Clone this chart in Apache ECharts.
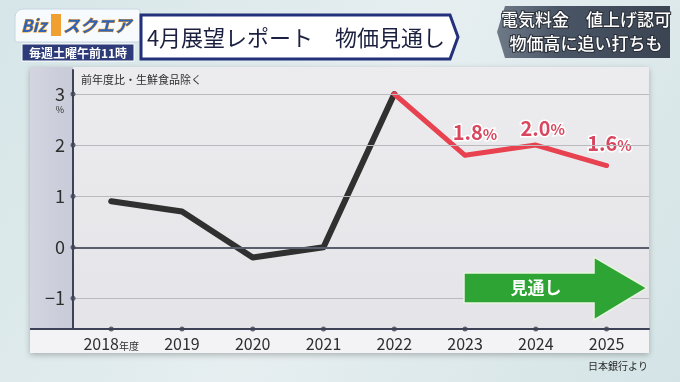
<!DOCTYPE html>
<html><head><meta charset="utf-8">
<script src="https://cdn.jsdelivr.net/npm/echarts@6/dist/echarts.min.js"></script>
<style>html,body{margin:0;padding:0;background:#dde8ea;}#c{width:680px;height:382px;}</style>
</head><body><div id="c"></div>
<script>
const years = [2018, 2019, 2020, 2021, 2022, 2023, 2024, 2025];
const actual = [0.9, 0.7, -0.2, 0.0, 3.0, null, null, null];
const forecast = [null, null, null, null, 3.0, 1.8, 2.0, 1.6];
const yTicks = [-1, 0, 1, 2, 3];
const xMin = 2017.46, xMax = 2025.6, yMin = -1.6, yMax = 3.47;
const FONT = '"Noto Sans CJK JP","Noto Sans",sans-serif';

const labelOffsets = {5: [10, -6], 6: [7, 0], 7: [3, -5]};
const toPairs = arr => years.map((y, i) => arr[i] == null ? null : [y, arr[i]]).filter(p => p);
const forecastData = years.map((y, i) => {
  if (forecast[i] == null) return null;
  const d = {value: [y, forecast[i]]};
  if (i >= 5) {
    d.label = {show: true, position: 'top', offset: labelOffsets[i], formatter: '{n|' + forecast[i].toFixed(1) + '}{p|%}'};
  } else {
    d.label = {show: false};
  }
  return d;
}).filter(d => d);

const labelRich = {
  n: {fontSize: 20, fontWeight: 'bold', color: '#d9475f', textBorderColor: '#ffffff', textBorderWidth: 3, fontFamily: FONT},
  p: {fontSize: 15, fontWeight: 'bold', color: '#d9475f', textBorderColor: '#ffffff', textBorderWidth: 3, fontFamily: FONT, padding: [3, 0, 0, 0]}
};

const chart = echarts.init(document.getElementById('c'), null, {renderer: 'canvas'});
chart.setOption({
  backgroundColor: {type: 'linear', x: 0, y: 0, x2: 1, y2: 1, colorStops: [{offset: 0, color: '#d6e6e8'}, {offset: 0.5, color: '#e6eef0'}, {offset: 1, color: '#d4e4e6'}]},
  animation: false,
  textStyle: {fontFamily: FONT},
  graphic: [
    // panel
    {type: 'rect', shape: {x: 30, y: 67, width: 619, height: 286}, style: {fill: {type: 'linear', x: 0, y: 0, x2: 0, y2: 1, colorStops: [{offset: 0, color: '#ececef'}, {offset: 1, color: '#e4e4e8'}]}, shadowBlur: 6, shadowColor: 'rgba(0,0,0,0.25)', shadowOffsetY: 2}, z: -10},
    {type: 'rect', shape: {x: 30, y: 67, width: 43, height: 262}, style: {fill: {type: 'linear', x: 0, y: 0, x2: 1, y2: 0, colorStops: [{offset: 0, color: '#d3d6e0'}, {offset: 1, color: '#c8cbd8'}]}}, z: -9},
    {type: 'rect', shape: {x: 30, y: 329, width: 619, height: 24}, style: {fill: '#f3f3f5'}, z: -9},
    {type: 'line', shape: {x1: 30, y1: 329, x2: 73, y2: 329}, style: {stroke: '#3e4256', lineWidth: 2}, z: 5},
    // header logo
    {type: 'rect', shape: {x: 15, y: 9, width: 125, height: 33, r: [8, 2, 2, 2]}, style: {fill: '#f7fbfd', stroke: '#c9d6e2', lineWidth: 1}, z: 10},
    {type: 'text', x: 21, y: 26, style: {text: 'Biz', fill: '#2f62b8', font: 'bold italic 17px ' + FONT, verticalAlign: 'middle', stroke: '#f0a020', lineWidth: 1}, z: 11},
    {type: 'rect', shape: {x: 51, y: 14, width: 10, height: 22}, style: {fill: '#f0a030'}, z: 11},
    {type: 'text', x: 63, y: 26, style: {text: 'スクエア', fill: '#2f62b8', font: 'bold italic 17px ' + FONT, verticalAlign: 'middle', stroke: '#f0a020', lineWidth: 1}, z: 11},
    {type: 'rect', shape: {x: 22, y: 44, width: 112, height: 17}, style: {fill: '#2d3b78', stroke: '#ffffff', lineWidth: 1}, z: 10},
    {type: 'text', x: 78, y: 53, style: {text: '毎週土曜午前11時', fill: '#ffffff', font: 'bold 12px ' + FONT, align: 'center', verticalAlign: 'middle'}, z: 11},
    // title banner
    {type: 'polygon', shape: {points: [[141, 15], [450, 15], [458, 37], [450, 59], [141, 59]]}, style: {fill: '#ffffff', stroke: '#23307a', lineWidth: 3}, z: 10},
    {type: 'text', x: 296, y: 38, style: {text: '4月展望レポート　物価見通し', fill: '#1b2040', font: '22px ' + FONT, align: 'center', verticalAlign: 'middle'}, z: 11},
    // right box
    {type: 'polygon', shape: {points: [[505, 6], [670, 6], [670, 58], [505, 58], [497, 32]]}, style: {fill: {type: 'linear', x: 0, y: 0, x2: 1, y2: 0, colorStops: [{offset: 0, color: '#6e7a88'}, {offset: 0.35, color: '#4a5566'}, {offset: 1, color: '#3a4452'}]}}, z: 10},
    {type: 'text', x: 586, y: 20, style: {text: '電気料金　値上げ認可', fill: '#ffffff', font: '500 17px ' + FONT, align: 'center', verticalAlign: 'middle', stroke: '#2a2f38', lineWidth: 2}, z: 11},
    {type: 'text', x: 586, y: 44, style: {text: '物価高に追い打ちも', fill: '#ffffff', font: '500 17px ' + FONT, align: 'center', verticalAlign: 'middle', stroke: '#2a2f38', lineWidth: 2}, z: 11},
    // forecast arrow
    {type: 'polygon', shape: {points: [[464, 273], [594, 273], [594, 257], [647, 288], [594, 320], [594, 303], [464, 303]]}, style: {fill: '#2ea434', stroke: '#e8f5e0', lineWidth: 1.5}, z: 20},
    {type: 'text', x: 536, y: 288, style: {text: '見通し', fill: '#ffffff', font: 'bold 17px ' + FONT, align: 'center', verticalAlign: 'middle'}, z: 21},
    // source
    {type: 'text', x: 648, y: 366, style: {text: '日本銀行より', fill: '#2a2a2a', font: '10px ' + FONT, align: 'right', verticalAlign: 'middle'}, z: 11}
  ],
  grid: {left: 73, right: 31, top: 70, bottom: 53, containLabel: false},
  xAxis: {
    type: 'value', min: xMin, max: xMax,
    axisLine: {show: true, onZero: false, lineStyle: {color: '#3e4256', width: 2}},
    axisTick: {show: false},
    splitLine: {show: false},
    axisLabel: {
      customValues: years, margin: 7, color: '#2e2e2e', fontSize: 16, fontFamily: FONT,
      formatter: v => v === years[0] ? '{y|' + v + '}{s|年度}' : '{y|' + v + '}',
      rich: {y: {fontSize: 16, color: '#2e2e2e', fontFamily: FONT}, s: {fontSize: 10, color: '#2e2e2e', fontFamily: FONT, padding: [4, 0, 0, 0]}}
    }
  },
  yAxis: {
    type: 'value', min: yMin, max: yMax,
    name: '前年度比・生鮮食品除く', nameLocation: 'end', nameGap: -4,
    nameTextStyle: {align: 'left', verticalAlign: 'top', padding: [0, 0, 0, 8], fontSize: 11, color: '#2e2e2e', fontFamily: FONT},
    axisLine: {show: true, onZero: false, lineStyle: {color: '#3e4256', width: 2}},
    axisTick: {show: false},
    splitLine: {show: false},
    axisLabel: {
      customValues: yTicks, margin: 8, color: '#2e2e2e', fontFamily: FONT,
      formatter: v => v === 3 ? '{e| }\n{n|3}\n{p|%}' : '{n|' + (v < 0 ? '−' + (-v) : v) + '}',
      rich: {n: {fontSize: 18, lineHeight: 20, color: '#2e2e2e', fontFamily: FONT}, e: {fontSize: 9, lineHeight: 12}, p: {fontSize: 9, lineHeight: 12, color: '#2e2e2e', align: 'center', fontFamily: FONT}}
    }
  },
  series: [
    {
      type: 'line', name: 'grid', data: [], silent: true,
      markLine: {
        silent: true, symbol: 'none', label: {show: false},
        data: yTicks.map(v => ({yAxis: v, lineStyle: v === 0 ? {color: '#5a5e6c', width: 2, type: 'solid'} : {color: '#b9b9be', width: 1.2, type: 'solid'}}))
      },
      z: 1
    },
    {
      type: 'scatter', data: years.map(y => [y, yMin]), symbol: 'circle', symbolSize: 5, clip: false,
      itemStyle: {color: '#3e4256'}, silent: true, z: 6
    },
    {
      type: 'scatter', data: yTicks.map(v => [xMin, v]), symbol: 'circle', symbolSize: 5, clip: false,
      itemStyle: {color: '#3e4256'}, silent: true, z: 6
    },
    {
      type: 'line', data: toPairs(actual), symbol: 'none',
      lineStyle: {color: '#303030', width: 6, cap: 'round', join: 'round'}, z: 3
    },
    {
      type: 'line', data: forecastData, symbol: 'circle', symbolSize: 4, showSymbol: true,
      itemStyle: {color: '#e8414f'},
      lineStyle: {color: '#e8414f', width: 5, cap: 'round', join: 'round'}, z: 4,
      label: {show: false, rich: labelRich}
    }
  ]
});
</script></body></html>
